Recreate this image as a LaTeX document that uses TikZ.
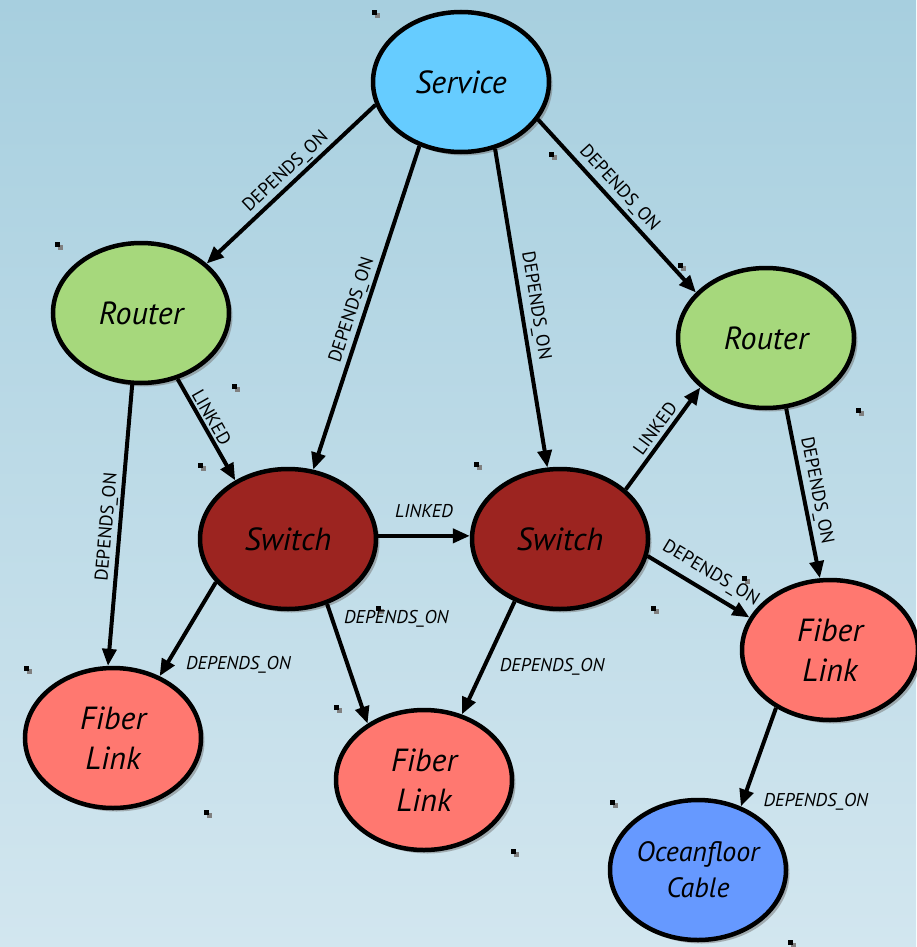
\documentclass[tikz,border=0pt]{standalone}
\usepackage{fontspec}
\setmainfont{PT Sans}
\usetikzlibrary{arrows.meta,shapes.geometric,shadows}

\definecolor{bgtop}{HTML}{A7CFDF}
\definecolor{bgbot}{HTML}{D2E6EF}
\definecolor{svc}{HTML}{66CCFF}
\definecolor{rtr}{HTML}{A6D87C}
\definecolor{swc}{HTML}{9C2420}
\definecolor{fib}{HTML}{FF7870}
\definecolor{ocn}{HTML}{6699FF}

\tikzset{
  ent/.style={ellipse, draw=black, line width=4.5pt,
    minimum width=176pt, minimum height=140pt, inner sep=0pt,
    align=center, font=\fontsize{32}{40}\selectfont\itshape,
    drop shadow={shadow xshift=3.5pt, shadow yshift=-3.5pt, fill=black!55}},
  rel/.style={line width=4pt, -{Triangle[length=17pt,width=14pt]}},
  lab/.style={font=\fontsize{18.5}{18.5}\selectfont, inner sep=1pt},
  hlab/.style={lab, font=\fontsize{18.5}{18.5}\selectfont\itshape},
}

\begin{document}
\begin{tikzpicture}[x=1pt,y=-1pt]
  % sky-blue backdrop
  \shade[top color=bgtop, bottom color=bgbot] (0,0) rectangle (916,947);
  \useasboundingbox (0,0) rectangle (916,947);

  % small dark flecks scattered over the backdrop
  \foreach \sx/\sy in {372/10, 549/152, 55/242, 678/263, 232/384, 856/408,
      474/462, 198/463, 376/606, 651/606, 742/576, 24/666, 334/705,
      204/810, 610/800, 511/849, 788/940} {
    \fill[black!50] (\sx+3,\sy+3) rectangle ++(5,5);
    \fill[black] (\sx,\sy) rectangle ++(5,5);
  }

  % entities
  \node[ent, fill=svc] (srv) at (461,82)  {Service};
  \node[ent, fill=rtr] (rl)  at (141,313) {Router};
  \node[ent, fill=rtr] (rr)  at (766,338) {Router};
  \node[ent, fill=swc] (swl) at (288,539) {Switch};
  \node[ent, fill=swc] (swr) at (560,539) {Switch};
  \node[ent, fill=fib] (fl)  at (113,738) {Fiber\\Link};
  \node[ent, fill=fib] (fm)  at (424,780) {Fiber\\Link};
  \node[ent, fill=fib] (fr)  at (830,650) {Fiber\\Link};
  \node[ent, fill=ocn, font=\fontsize{28}{36}\selectfont\itshape]
    (oc) at (698,870) {Oceanfloor\\Cable};

  % relationships
  \draw[rel] (srv.195) -- (rl.37)
    node[lab, pos=0.48, sloped, above=1pt] {DEPENDS\_ON};
  \draw[rel] (srv.237) -- (swl.70)
    node[lab, pos=0.52, sloped, above=1pt] {DEPENDS\_ON};
  \draw[rel] (srv.297) -- (swr.100)
    node[lab, pos=0.5, sloped, above=3pt] {DEPENDS\_ON};
  \draw[rel] (srv.334) -- (rr.147)
    node[lab, pos=0.45, sloped, above=2pt] {DEPENDS\_ON};
  \draw[rel] (rl.299) -- (swl.132)
    node[lab, pos=0.43, sloped, above=1pt] {LINKED};
  \draw[rel] (rl.263) -- (fl.94)
    node[lab, pos=0.51, sloped, above=1pt] {DEPENDS\_ON};
  \draw[rel] (swl.2) -- (swr.178)
    node[hlab, pos=0.5, above=15pt] {LINKED};
  \draw[rel] (swr.37) -- (rr.217)
    node[lab, pos=0.53, sloped, above=3pt] {LINKED};
  \draw[rel] (rr.286) -- (fr.98)
    node[lab, pos=0.5, sloped, above=2pt] {DEPENDS\_ON};
  \draw[rel] (swl.211) -- (fl.53)
    node[hlab, pos=0.9, anchor=west, xshift=18pt, yshift=2pt] {DEPENDS\_ON};
  \draw[rel] (swl.301) -- (fm.135)
    node[hlab, pos=0.1, anchor=west, xshift=10pt, yshift=-3pt] {DEPENDS\_ON};
  \draw[rel] (swr.234) -- (fm.60)
    node[hlab, pos=0.6, anchor=west, xshift=14pt, yshift=2pt] {DEPENDS\_ON};
  \draw[rel] (swr.349) -- (fr.158)
    node[lab, pos=0.53, sloped, above=6pt] {DEPENDS\_ON};
  \draw[rel] (fr.227) -- (oc.56)
    node[hlab, pos=0.95, anchor=west, xshift=18pt] {DEPENDS\_ON};
\end{tikzpicture}
\end{document}
